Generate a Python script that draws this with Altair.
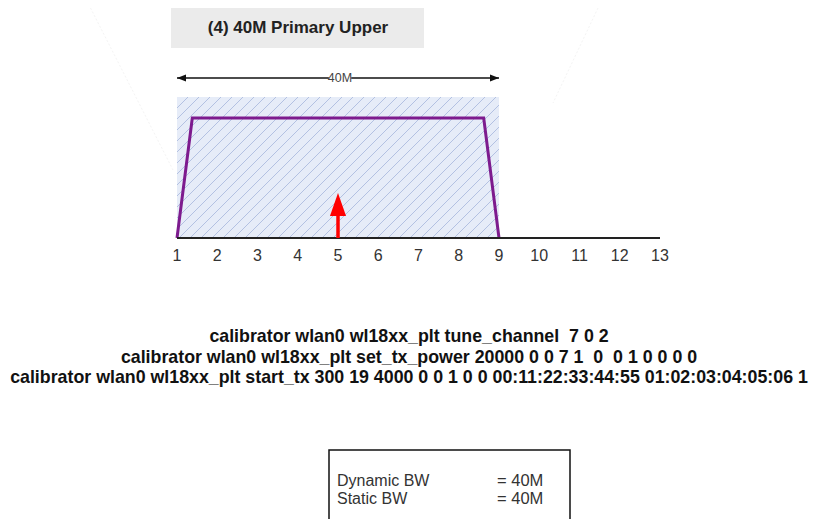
import altair as alt
import pandas as pd

# ---------------- data ----------------
channels = list(range(1, 14))
mask_x = [1, 1.38, 8.62, 9]
mask_y = [0, 12, 12, 0]
band_start = 1
band_end = 9
band_top = 14.1
span_y = 16
span_label = "40M"
carrier_channel = 5
carrier_base = 2.2
carrier_tip = 4.5
title_text = "(4) 40M Primary Upper"
NB = "\u00a0"
commands = [
    "calibrator wlan0 wl18xx_plt tune_channel " + NB + "7 0 2",
    "calibrator wlan0 wl18xx_plt set_tx_power 20000 0 0 7 1 " + NB + "0 " + NB + "0 1 0 0 0 0",
    "calibrator wlan0 wl18xx_plt start_tx 300 19 4000 0 0 1 0 0 00:11:22:33:44:55 01:02:03:04:05:06 1",
]
bw_names = ["Dynamic BW", "Static BW"]
bw_values = ["= 40M", "= 40M"]

W, H = 801, 511
FONT = "Liberation Sans"
xs = alt.Scale(domain=[-3.199, 16.702], nice=False, zero=False)
ys = alt.Scale(domain=[-28.1, 23], nice=False, zero=False)
PX_X, PX_Y = 40.25, 10.0

def X(f="x"):
    return alt.X(f"{f}:Q", scale=xs, axis=None)

def Y(f="y"):
    return alt.Y(f"{f}:Q", scale=ys, axis=None)

one = pd.DataFrame({"a": [0]})

# hatched band area
band_df = pd.DataFrame({"x": [band_start], "x2": [band_end], "y": [0], "y2": [band_top]})
band = alt.Chart(band_df).mark_rect(fill="#e6ecf8").encode(x=X(), x2="x2", y=Y(), y2="y2")

# hatch lines (decoration, 45 degrees in screen space)
Wp = (band_end - band_start) * PX_X
Hp = band_top * PX_Y
rows = []
c = -Hp
while c < Wp:
    u0 = max(0.0, c)
    u1 = min(Wp, Hp + c)
    if u1 > u0:
        rows.append({"x": band_start + u0 / PX_X, "y": (u0 - c) / PX_Y,
                     "x2": band_start + u1 / PX_X, "y2": (u1 - c) / PX_Y})
    c += 11
hatch = alt.Chart(pd.DataFrame(rows)).mark_rule(color="#b3c1e2", strokeWidth=1).encode(
    x=X(), x2="x2", y=Y(), y2="y2")

# spectral mask
mask_df = pd.DataFrame({"x": mask_x, "y": mask_y, "o": range(len(mask_x))})
mask = alt.Chart(mask_df).mark_line(color="#7d1b8e", strokeWidth=3, strokeJoin="miter").encode(
    x=X(), y=Y(), order="o:Q")

# frequency axis
axis_df = pd.DataFrame({"x": [channels[0]], "x2": [channels[-1]], "y": [0]})
axis_line = alt.Chart(axis_df).mark_rule(color="#222222", strokeWidth=2).encode(x=X(), x2="x2", y=Y())
lab_df = pd.DataFrame({"x": channels, "y": [-1.8] * len(channels), "t": [str(c) for c in channels]})
labels = alt.Chart(lab_df).mark_text(font=FONT, fontSize=16, color="#333333", baseline="middle").encode(
    x=X(), y=Y(), text="t:N")

# carrier arrow
shaft_df = pd.DataFrame({"x": [carrier_channel], "y": [0], "y2": [carrier_base + 0.3]})
shaft = alt.Chart(shaft_df).mark_rule(color="#ff0000", strokeWidth=3.5).encode(x=X(), y=Y(), y2="y2")
head_df = pd.DataFrame({"x": [carrier_channel], "y": [carrier_tip]})
head = alt.Chart(head_df).mark_point(shape="M0,0L0.7,2L-0.7,2Z", size=529, filled=True,
                                     color="#ff0000", opacity=1).encode(x=X(), y=Y())

# bandwidth dimension arrow
span_df = pd.DataFrame({"x": [band_start], "x2": [band_end], "y": [span_y]})
span = alt.Chart(span_df).mark_rule(color="#111111", strokeWidth=1.5).encode(x=X(), x2="x2", y=Y())
lh = alt.Chart(pd.DataFrame({"x": [band_start], "y": [span_y]})).mark_point(
    shape="M0,0L2,-0.8L2,0.8Z", size=81, filled=True, color="#111111", opacity=1).encode(x=X(), y=Y())
rh = alt.Chart(pd.DataFrame({"x": [band_end], "y": [span_y]})).mark_point(
    shape="M0,0L-2,-0.8L-2,0.8Z", size=81, filled=True, color="#111111", opacity=1).encode(x=X(), y=Y())
span_bg = alt.Chart(pd.DataFrame({"x": [5.05], "y": [span_y]})).mark_point(
    shape="square", size=500, filled=True, color="white", opacity=1).encode(x=X(), y=Y())
span_txt = alt.Chart(pd.DataFrame({"x": [5.05], "y": [span_y], "t": [span_label]})).mark_text(
    font=FONT, fontSize=12.5, color="#444444", baseline="middle").encode(x=X(), y=Y(), text="t:N")

# faint background guide lines
faint = alt.Chart(pd.DataFrame({"x": [82.5, 590], "x2": [165, 545], "y": [0, 0], "y2": [162, 95]})).mark_rule(
    color="#f4f4f4", strokeWidth=1, strokeDash=[2, 2]).encode(
    x=alt.X("x:Q", scale=None, axis=None), x2="x2", y=alt.Y("y:Q", scale=None, axis=None), y2="y2")

# title box
tbox = alt.Chart(one).mark_rect(fill="#ebebeb").encode(
    x=alt.value(163), x2=alt.value(416), y=alt.value(0), y2=alt.value(40))
ttxt = alt.Chart(one).mark_text(font=FONT, fontSize=17, fontWeight="bold", color="#222222",
                                baseline="middle", text=title_text).encode(x=alt.value(290), y=alt.value(20))

# command lines
cmd = alt.Chart(one).mark_text(font=FONT, fontSize=17.8, fontWeight="bold", color="#111111",
                               baseline="middle", lineBreak="\n", lineHeight=20.5,
                               text="\n".join(commands)).encode(x=alt.value(401), y=alt.value(329))

# info box
ibox = alt.Chart(one).mark_rect(fill="white", stroke="#111111", strokeWidth=1.5).encode(
    x=alt.value(321), x2=alt.value(562), y=alt.value(442), y2=alt.value(530))
itxt1 = alt.Chart(one).mark_text(font=FONT, fontSize=16, color="#333333", align="left",
                                 baseline="middle", lineBreak="\n", lineHeight=18,
                                 text="\n".join(bw_names)).encode(x=alt.value(329), y=alt.value(473))
itxt2 = alt.Chart(one).mark_text(font=FONT, fontSize=16.5, color="#333333", align="left",
                                 baseline="middle", lineBreak="\n", lineHeight=18,
                                 text="\n".join(bw_values)).encode(x=alt.value(489), y=alt.value(473))

chart = alt.layer(
    faint, band, hatch, mask, axis_line, labels, shaft, head,
    span, lh, rh, span_bg, span_txt, tbox, ttxt, cmd, ibox, itxt1, itxt2
).properties(width=W, height=H, padding=0, autosize="none").configure_view(stroke=None)

chart.save("out.html", embed_options={"renderer": "svg", "actions": False})
